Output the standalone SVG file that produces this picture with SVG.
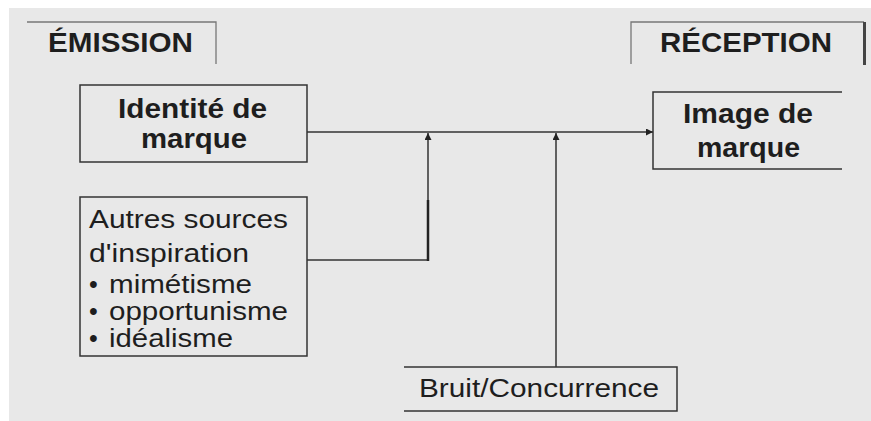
<svg xmlns="http://www.w3.org/2000/svg" width="871" height="421" viewBox="0 0 871 421">
<style>
  .t { font-family: "Liberation Sans", Arial, sans-serif; fill: #1e1e1e; }
  .b { font-weight: bold; }
  .box { fill: none; stroke: #333; stroke-width: 1.5; }
  .tab { fill: none; stroke: #777; stroke-width: 1.3; }
  .ln { fill: none; stroke: #333; stroke-width: 1.5; }
</style>
<defs>
  <marker id="ah" viewBox="0 0 10 10" refX="10" refY="5" markerWidth="7" markerHeight="7" markerUnits="userSpaceOnUse" orient="auto">
    <path d="M0,0 L10,5 L0,10 z" fill="#222"/>
  </marker>
</defs>
<rect x="0" y="0" width="871" height="421" fill="#ffffff"/>
<rect x="9" y="8" width="862" height="413" fill="#e8e8e8"/>

<g id="emission">
  <path class="tab" d="M27,22 H216 V64"/>
  <text class="t b" x="48" y="52" font-size="28" textLength="145" lengthAdjust="spacingAndGlyphs">ÉMISSION</text>
</g>
<g id="reception">
  <path class="tab" d="M631,64 V22 H864"/>
  <line x1="864.5" y1="22" x2="864.5" y2="65" stroke="#444" stroke-width="3"/>
  <text class="t b" x="660" y="52" font-size="28" textLength="172" lengthAdjust="spacingAndGlyphs">RÉCEPTION</text>
</g>

<g id="identite">
  <rect class="box" x="80" y="85" width="227" height="77"/>
  <text class="t b" x="118" y="118" font-size="27" textLength="149" lengthAdjust="spacingAndGlyphs">Identité de</text>
  <text class="t b" x="141" y="148" font-size="27" textLength="106" lengthAdjust="spacingAndGlyphs">marque</text>
</g>

<g id="image">
  <path class="box" d="M842,92 H653 V169 H842"/>
  <text class="t b" x="683" y="123" font-size="27" textLength="130" lengthAdjust="spacingAndGlyphs">Image de</text>
  <text class="t b" x="697" y="157" font-size="27" textLength="103" lengthAdjust="spacingAndGlyphs">marque</text>
</g>

<g id="autres">
  <rect class="box" x="80" y="197" width="227" height="159"/>
  <text class="t" x="89" y="228" font-size="25" textLength="199" lengthAdjust="spacingAndGlyphs">Autres sources</text>
  <text class="t" x="89" y="262" font-size="25" textLength="160" lengthAdjust="spacingAndGlyphs">d'inspiration</text>
  <text class="t" x="89" y="293" font-size="25">•</text>
  <text class="t" x="109" y="293" font-size="25" textLength="143" lengthAdjust="spacingAndGlyphs">mimétisme</text>
  <text class="t" x="89" y="320" font-size="25">•</text>
  <text class="t" x="109" y="320" font-size="25" textLength="179" lengthAdjust="spacingAndGlyphs">opportunisme</text>
  <text class="t" x="89" y="347" font-size="25">•</text>
  <text class="t" x="109" y="347" font-size="25" textLength="124" lengthAdjust="spacingAndGlyphs">idéalisme</text>
</g>

<g id="bruit">
  <path class="box" d="M404,367 H677 V411 H404"/>
  <text class="t" x="419" y="397" font-size="26" textLength="240" lengthAdjust="spacingAndGlyphs">Bruit/Concurrence</text>
</g>

<g id="connectors">
  <line class="ln" x1="307" y1="132" x2="653" y2="132" marker-end="url(#ah)"/>
  <polyline class="ln" points="307,260 428,260 428,133" marker-end="url(#ah)"/>
  <line x1="428" y1="200" x2="428" y2="261" stroke="#222" stroke-width="2.5"/>
  <line class="ln" x1="556" y1="367" x2="556" y2="133" marker-end="url(#ah)"/>
</g>
</svg>
